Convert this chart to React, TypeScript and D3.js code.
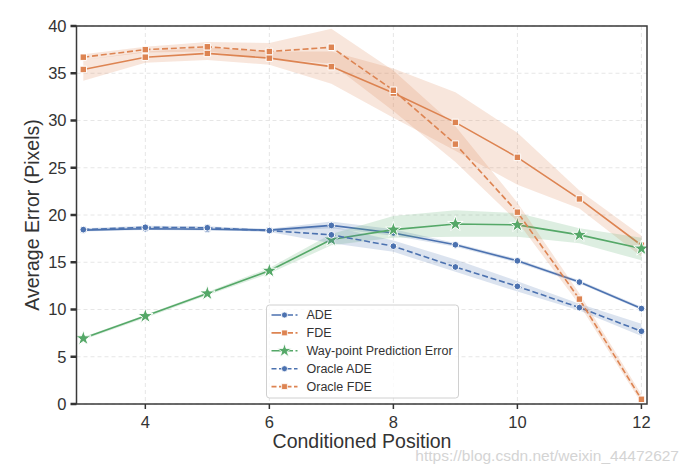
import React from 'react';
import * as d3 from 'd3';

// conditioned positions (x)
const positions = [3, 4, 5, 6, 7, 8, 9, 10, 11, 12];

// mean values
const ade = [18.4, 18.55, 18.5, 18.4, 18.9, 18.1, 16.85, 15.15, 12.9, 10.1];
const fde = [35.4, 36.7, 37.1, 36.6, 35.7, 32.9, 29.8, 26.1, 21.7, 16.8];
const waypoint = [6.95, 9.3, 11.7, 14.1, 17.4, 18.45, 19.05, 18.95, 17.9, 16.45];
const oracleAde = [18.45, 18.7, 18.65, 18.35, 17.9, 16.7, 14.5, 12.45, 10.2, 7.7];
const oracleFde = [36.7, 37.5, 37.8, 37.3, 37.75, 33.2, 27.5, 20.3, 11.1, 0.5];

// confidence bands (low / high)
const adeLo = [18.25, 18.4, 18.35, 18.25, 18.6, 17.8, 16.65, 14.95, 12.75, 9.95];
const adeHi = [18.55, 18.7, 18.65, 18.55, 19.3, 18.5, 17.05, 15.35, 13.1, 10.3];
const fdeLo = [34.2, 36.1, 36.4, 35.9, 33.9, 30.3, 26.8, 23.2, 20.7, 15.6];
const fdeHi = [36.4, 37.3, 37.7, 37.3, 37.3, 35.5, 33.0, 28.7, 22.6, 17.8];
const waypointLo = [6.8, 9.1, 11.5, 13.8, 16.8, 17.6, 17.7, 17.7, 17.0, 15.2];
const waypointHi = [7.1, 9.45, 11.85, 14.4, 18.0, 19.9, 20.5, 20.2, 18.6, 17.6];
const oracleAdeLo = [18.3, 18.55, 18.5, 18.2, 17.0, 16.1, 14.0, 11.9, 9.9, 7.2];
const oracleAdeHi = [18.6, 18.85, 18.8, 18.5, 18.8, 17.3, 15.3, 13.0, 10.6, 8.5];
const oracleFdeLo = [36.4, 37.2, 37.3, 36.6, 36.0, 31.0, 25.6, 19.3, 10.5, 0.1];
const oracleFdeHi = [37.0, 37.8, 38.3, 38.2, 39.7, 35.3, 29.4, 21.3, 11.7, 1.0];

const xTicks = [4, 6, 8, 10, 12];
const yTicks = [0, 5, 10, 15, 20, 25, 30, 35, 40];

const BLUE = '#4C72B0';
const ORANGE = '#DD8452';
const GREEN = '#55A868';

const series = [
  { name: 'ADE', values: ade, lo: adeLo, hi: adeHi, color: BLUE, marker: 'circle', dashed: false },
  { name: 'FDE', values: fde, lo: fdeLo, hi: fdeHi, color: ORANGE, marker: 'square', dashed: false },
  { name: 'Way-point Prediction Error', values: waypoint, lo: waypointLo, hi: waypointHi, color: GREEN, marker: 'star', dashed: false },
  { name: 'Oracle ADE', values: oracleAde, lo: oracleAdeLo, hi: oracleAdeHi, color: BLUE, marker: 'circle', dashed: true },
  { name: 'Oracle FDE', values: oracleFde, lo: oracleFdeLo, hi: oracleFdeHi, color: ORANGE, marker: 'square', dashed: true },
];

const W = 687;
const H = 471;
const plot = { left: 76.5, right: 647, top: 26, bottom: 404 };
const FONT = '"Liberation Sans", Arial, sans-serif';

const symbolFor = (m: string, size: number) => {
  const type = m === 'circle' ? d3.symbolCircle : m === 'square' ? d3.symbolSquare : d3.symbolStar;
  return d3.symbol().type(type).size(size)() as string;
};
const sizeFor = (m: string) => (m === 'circle' ? 36 : m === 'square' ? 42 : 75);

export default function App() {
  const x = d3.scaleLinear().domain([2.89, 12.09]).range([plot.left, plot.right]);
  const y = d3.scaleLinear().domain([0, 40]).range([plot.bottom, plot.top]);

  const line = d3.line<number>().x((_, i) => x(positions[i])).y(d => y(d));

  const legendX = 266.5;
  const legendY = 305;

  return (
    <svg width={W} height={H} style={{ position: 'absolute', left: 0, top: 0, background: '#fff' }} fontFamily={FONT}>
      <defs>
        <clipPath id="plotclip">
          <rect x={plot.left} y={plot.top} width={plot.right - plot.left} height={plot.bottom - plot.top} />
        </clipPath>
      </defs>

      {/* grid */}
      <g stroke="#e6e6e6" strokeWidth={1} strokeDasharray="4,3">
        {xTicks.map(t => (
          <line key={'gx' + t} x1={x(t)} x2={x(t)} y1={plot.top} y2={plot.bottom} />
        ))}
        {yTicks.map(t => (
          <line key={'gy' + t} x1={plot.left} x2={plot.right} y1={y(t)} y2={y(t)} />
        ))}
      </g>

      {/* bands, lines and markers */}
      <g clipPath="url(#plotclip)">
        {series.map(s => {
          const area = d3.area<number>()
            .x((_, i) => x(positions[i]))
            .y0((_, i) => y(s.lo[i]))
            .y1((_, i) => y(s.hi[i]));
          return (
            <g key={s.name}>
              <path d={area(s.values) as string} fill={s.color} fillOpacity={0.2} stroke="none" />
              <path d={line(s.values) as string} fill="none" stroke={s.color} strokeWidth={1.6}
                strokeDasharray={s.dashed ? '6,2.8' : undefined} />
              {s.values.map((v, i) => (
                <path key={i} d={symbolFor(s.marker, sizeFor(s.marker))}
                  transform={`translate(${x(positions[i])},${y(v)})`}
                  fill={s.color} stroke="#fff" strokeWidth={1} />
              ))}
            </g>
          );
        })}
      </g>

      {/* spines */}
      <rect x={plot.left} y={plot.top} width={plot.right - plot.left} height={plot.bottom - plot.top}
        fill="none" stroke="#3a3a3a" strokeWidth={1.5} />

      {/* y axis ticks */}
      <g fontSize={16.5} fill="#333">
        {yTicks.map(t => (
          <g key={'yt' + t}>
            <line x1={plot.left - 6} x2={plot.left} y1={y(t)} y2={y(t)} stroke="#333" strokeWidth={2.5} />
            <text x={plot.left - 10} y={y(t)} dy="0.35em" textAnchor="end">{t}</text>
          </g>
        ))}
      </g>

      {/* x axis ticks */}
      <g fontSize={16.5} fill="#333">
        {xTicks.map(t => (
          <g key={'xt' + t}>
            <line x1={x(t)} x2={x(t)} y1={plot.bottom} y2={plot.bottom + 5} stroke="#333" strokeWidth={1.5} />
            <text x={x(t)} y={plot.bottom + 24} textAnchor="middle">{t}</text>
          </g>
        ))}
      </g>

      {/* axis labels */}
      <text x={362} y={448} textAnchor="middle" fontSize={19.5} fill="#333">
        Conditioned Position
      </text>
      <text transform={`translate(39,${(plot.top + plot.bottom) / 2}) rotate(-90)`} textAnchor="middle"
        fontSize={19.5} fill="#333">
        Average Error (Pixels)
      </text>

      {/* legend */}
      <g transform={`translate(${legendX},${legendY})`}>
        <rect x={0} y={0} width={192} height={93} rx={3} fill="#fff" fillOpacity={0.8} stroke="#d0d0d0" strokeWidth={1} />
        {series.map((s, i) => {
          const cy = 10 + i * 17.9;
          return (
            <g key={'lg' + s.name}>
              <line x1={5} x2={31} y1={cy} y2={cy} stroke={s.color} strokeWidth={1.6}
                strokeDasharray={s.dashed ? '5,2.5' : '9.5,2.5'} />
              <path d={symbolFor(s.marker, sizeFor(s.marker) * 0.8)} transform={`translate(18,${cy})`}
                fill={s.color} stroke="#fff" strokeWidth={0.8} />
              <text x={40} y={cy} dy="0.35em" fontSize={12.5} fill="#333">{s.name}</text>
            </g>
          );
        })}
      </g>

      {/* watermark */}
      <text x={679} y={461} textAnchor="end" fontSize={15.5} fill="#d4d4d4">
        https://blog.csdn.net/weixin_44472627
      </text>
    </svg>
  );
}
